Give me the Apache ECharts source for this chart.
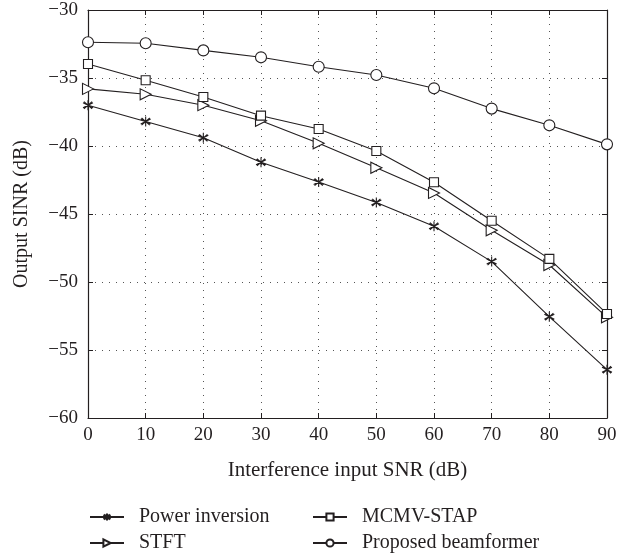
<!DOCTYPE html>
<html>
<head>
<meta charset="utf-8">
<script src="https://cdn.jsdelivr.net/npm/echarts@6/dist/echarts.min.js"></script>
<style>
html,body{margin:0;padding:0;background:#fff;}
#chart{width:633px;height:559px;}
</style>
</head>
<body>
<div id="chart"></div>
<script>
const xValues = [0, 10, 20, 30, 40, 50, 60, 70, 80, 90];
const powerInversion = [-37.0, -38.2, -39.4, -41.2, -42.65, -44.15, -45.9, -48.5, -52.55, -56.45];
const stft = [-35.8, -36.2, -37.0, -38.15, -39.8, -41.6, -43.45, -46.2, -48.75, -52.6];
const mcmvStap = [-33.97, -35.17, -36.4, -37.77, -38.75, -40.37, -42.67, -45.5, -48.3, -52.35];
const proposed = [-32.37, -32.45, -32.97, -33.48, -34.17, -34.78, -35.76, -37.25, -38.48, -39.88];
const xTicks = [0, 10, 20, 30, 40, 50, 60, 70, 80, 90];
const yTicks = [-60, -55, -50, -45, -40, -35, -30];
const seriesNames = ['Power inversion', 'STFT', 'MCMV-STAP', 'Proposed beamformer'];

const FONT = '"Liberation Serif", "DejaVu Serif", serif';
const INK = '#231f20';
const starPath = 'path://M5,0 L5,10 M0.67,2.5 L9.33,7.5 M0.67,7.5 L9.33,2.5 M1.46,1.46 L8.54,8.54 M1.46,8.54 L8.54,1.46';

function pairs(ys) { return xValues.map((x, i) => [x, ys[i]]); }

function mkSeries(name, ys, symbol, size, rotate) {
  return {
    name: name,
    type: 'line',
    data: pairs(ys),
    symbol: symbol,
    symbolSize: size,
    symbolRotate: rotate || 0,
    showAllSymbol: true,
    lineStyle: { color: INK, width: 1.1 },
    itemStyle: { color: symbol === starPath ? 'rgba(0,0,0,0)' : '#fff', borderColor: INK, borderWidth: 1.1 },
    emphasis: { disabled: true },
    animation: false
  };
}

function mkLegend(name, left, top) {
  return {
    data: [name],
    orient: 'horizontal', left: left, top: top,
    padding: 0,
    itemWidth: 34, itemHeight: 9, itemGap: 0,
    textStyle: { fontFamily: FONT, fontSize: 20, color: INK, padding: [0, 0, 0, 10] },
    selectedMode: false
  };
}

const chart = echarts.init(document.getElementById('chart'), null, { renderer: 'canvas' });

const axisCommonX = {
  type: 'value', min: 0, max: 90, interval: 10,
  axisLine: { show: true, onZero: false, lineStyle: { color: INK, width: 1.2 } },
  axisTick: { show: true, inside: true, length: 5, lineStyle: { color: INK } },
};
const axisCommonY = {
  type: 'value', min: -60, max: -30, interval: 5,
  axisLine: { show: true, onZero: false, lineStyle: { color: INK, width: 1.2 } },
  axisTick: { show: true, inside: true, length: 5, lineStyle: { color: INK } },
};

chart.setOption({
  backgroundColor: '#fff',
  animation: false,
  grid: { left: 88, right: 26, top: 10, bottom: 141, containLabel: false },
  xAxis: [
    Object.assign({}, axisCommonX, {
      position: 'bottom',
      name: 'Interference input SNR (dB)',
      nameLocation: 'middle',
      nameGap: 42,
      nameTextStyle: { fontFamily: FONT, fontSize: 21, color: INK },
      axisLabel: { margin: 8, fontFamily: FONT, fontSize: 19, color: INK,
        formatter: v => xTicks.indexOf(v) >= 0 ? String(v) : '' },
      splitLine: { show: true, lineStyle: { color: '#555', width: 1, type: [1, 6] } }
    }),
    Object.assign({}, axisCommonX, {
      position: 'top',
      axisLabel: { show: false },
      splitLine: { show: false }
    })
  ],
  yAxis: [
    Object.assign({}, axisCommonY, {
      position: 'left',
      name: 'Output SINR (dB)',
      nameLocation: 'middle',
      nameGap: 56,
      nameTextStyle: { fontFamily: FONT, fontSize: 20, color: INK },
      axisLabel: { margin: 10, fontFamily: FONT, fontSize: 19, color: INK,
        formatter: v => yTicks.indexOf(v) >= 0 ? String(v).replace('-', '\u2212') : '' },
      splitLine: { show: true, lineStyle: { color: '#555', width: 1, type: [1, 6] } }
    }),
    Object.assign({}, axisCommonY, {
      position: 'right',
      axisLabel: { show: false },
      splitLine: { show: false }
    })
  ],
  legend: [
    mkLegend(seriesNames[0], 89, 507),
    mkLegend(seriesNames[1], 89, 533),
    mkLegend(seriesNames[2], 312, 507),
    mkLegend(seriesNames[3], 312, 533)
  ],
  series: [
    mkSeries(seriesNames[0], powerInversion, starPath, 10),
    mkSeries(seriesNames[1], stft, 'triangle', 11, -90),
    mkSeries(seriesNames[2], mcmvStap, 'rect', 9),
    mkSeries(seriesNames[3], proposed, 'circle', 11)
  ]
});
</script>
</body>
</html>
